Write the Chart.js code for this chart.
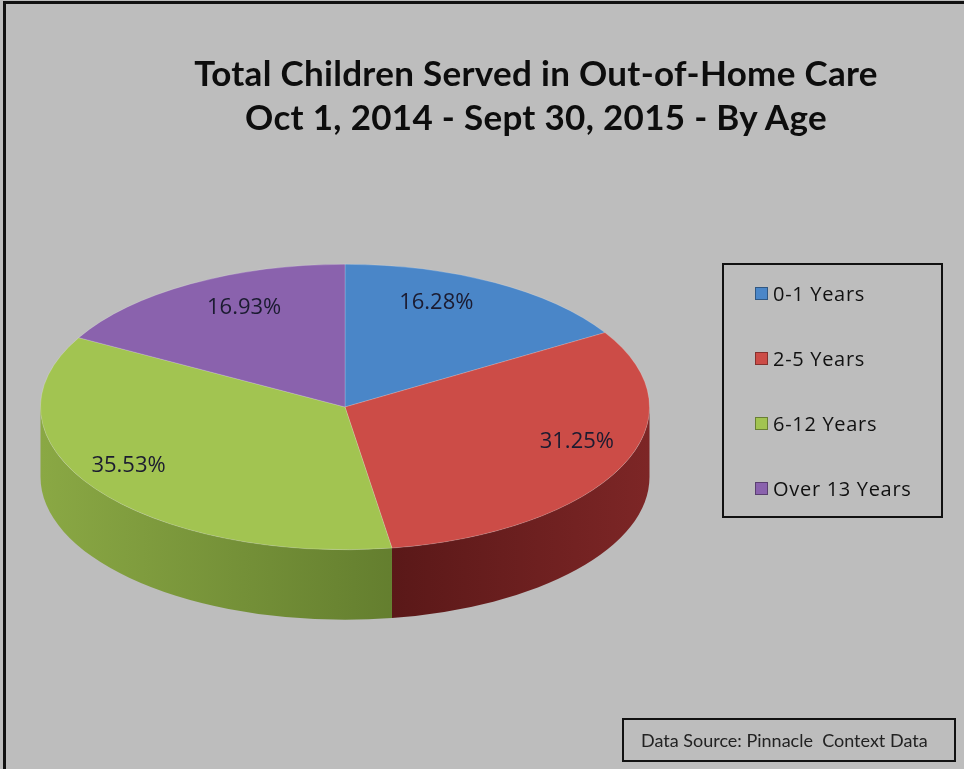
<!DOCTYPE html>
<html>
<head>
<meta charset="utf-8">
<script src="https://cdn.jsdelivr.net/npm/chart.js@4.4.0/dist/chart.umd.min.js"></script>
<style>
  body { margin: 0; background: #bdbdbd; }
  #wrap { position: relative; width: 964px; height: 769px; background: #bdbdbd; overflow: hidden; }
  #frame { position: absolute; left: 3px; top: 1px; width: 1000px; height: 800px;
           border-left: 3px solid #111; border-top: 3px solid #111; }
  #title { position: absolute; left: 36px; width: 1000px; top: 50px; text-align: center;
           font: bold 35px Lato, sans-serif; letter-spacing: 0.3px; line-height: 44px; color: #0d0d0d; }
  #legend { position: absolute; left: 722px; top: 263px; width: 217px; height: 251px;
            border: 2px solid #111; }
  .item { position: absolute; left: 31px; font: 20px "Open Sans", sans-serif; color: #111;
          letter-spacing: 0.7px; white-space: nowrap; }
  .sw { display: inline-block; width: 11px; height: 11px; margin-right: 5px;
        vertical-align: 1px; border: 1px solid rgba(0,0,0,0.35); }
  #source { position: absolute; left: 622px; top: 718px; width: 330px; height: 40px;
            border: 2px solid #111; font: 18px Lato, sans-serif; color: #222;
            line-height: 40px; text-indent: 17px; white-space: nowrap; }
  canvas { position: absolute; left: 0; top: 0; }
</style>
</head>
<body>
<div id="wrap">
  <canvas id="pie" width="964" height="769"></canvas>
  <div id="frame"></div>
  <div id="title">Total Children Served in Out-of-Home Care<br>Oct 1, 2014 - Sept 30, 2015 - By Age</div>
  <div id="legend"></div>
  <div id="source">Data Source: Pinnacle&nbsp; Context Data</div>
</div>
<script>
const labels = ["0-1 Years", "2-5 Years", "6-12 Years", "Over 13 Years"];
const shares = [16.28, 31.25, 35.53, 16.93];
const topColors = ["#4a86c8", "#cc4c47", "#a2c451", "#8a62ad"];
const sideLeft = ["#2c5684", "#2a0505", "#8aa844", "#563a78"];
const sideRight = ["#234670", "#7d2626", "#48601f", "#463062"];

// legend
const legend = document.getElementById("legend");
labels.forEach((lab, i) => {
  const div = document.createElement("div");
  div.className = "item";
  div.style.top = (15 + i * 65) + "px";
  div.innerHTML = '<span class="sw" style="background:' + topColors[i] + '"></span>' + lab;
  legend.appendChild(div);
});

// tilted pie with side wall, drawn from the arc elements
const pie3d = {
  id: "pie3d",
  beforeDatasetsDraw(chart, args, opts) {
    const ctx = chart.ctx;
    const arcs = chart.getDatasetMeta(0).data;
    const x = arcs[0].x, y = arcs[0].y, r = arcs[0].outerRadius;
    const k = opts.tilt;
    const depth = opts.depth / k;
    ctx.save();
    ctx.translate(x, y);
    ctx.scale(1, k);
    ctx.translate(-x, -y);
    arcs.forEach((arc, i) => {
      const g = ctx.createLinearGradient(x - r, 0, x + r, 0);
      g.addColorStop(0, sideLeft[i]);
      g.addColorStop(1, sideRight[i]);
      [0, 2 * Math.PI, -2 * Math.PI].forEach(shift => {
        const a0 = Math.max(arc.startAngle + shift, 0);
        const a1 = Math.min(arc.endAngle + shift, Math.PI);
        if (a1 <= a0) return;
        ctx.beginPath();
        ctx.arc(x, y, r, a0, a1);
        ctx.arc(x, y + depth, r, a1, a0, true);
        ctx.closePath();
        ctx.fillStyle = g;
        ctx.fill();
      });
    });
  },
  afterDatasetsDraw(chart, args, opts) {
    const ctx = chart.ctx;
    ctx.restore();
    const arcs = chart.getDatasetMeta(0).data;
    const x = arcs[0].x, y = arcs[0].y, r = arcs[0].outerRadius;
    const k = opts.tilt;
    ctx.save();
    ctx.font = "22px 'Open Sans', sans-serif";
    ctx.fillStyle = "#1b1b30";
    ctx.textAlign = "center";
    ctx.textBaseline = "middle";
    arcs.forEach((arc, i) => {
      const p = opts.labelPlace[i];
      const a = (arc.startAngle + arc.endAngle) / 2 + p.shift * Math.PI / 180;
      const d = p.dist * r;
      ctx.fillText(shares[i].toFixed(2) + "%", x + d * Math.cos(a), y + k * d * Math.sin(a));
    });
    ctx.restore();
  }
};

new Chart(document.getElementById("pie"), {
  type: "pie",
  data: {
    labels: labels,
    datasets: [{
      data: shares,
      backgroundColor: topColors,
      borderColor: "rgba(255,255,255,0.25)",
      borderWidth: 1,
    }],
  },
  options: {
    responsive: false,
    animation: false,
    layout: { padding: { left: 40, right: 314, top: 102, bottom: 57 } },
    plugins: {
      legend: { display: false },
      tooltip: { enabled: false },
      pie3d: {
        tilt: 0.469,
        depth: 70,
        labelPlace: [
          { shift: -7, dist: 0.79 },
          { shift: -7, dist: 0.80 },
          { shift: 5, dist: 0.82 },
          { shift: 5, dist: 0.77 },
        ],
      },
    },
  },
  plugins: [pie3d],
});
</script>
</body>
</html>
